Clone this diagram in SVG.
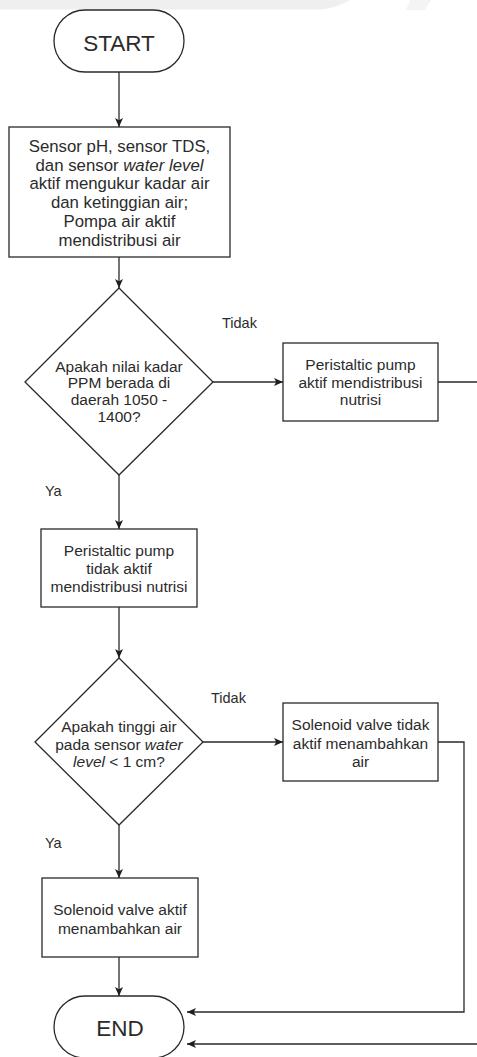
<svg xmlns="http://www.w3.org/2000/svg" width="477" height="1057" viewBox="0 0 477 1057">
  <defs>
    <marker id="arrow" markerUnits="userSpaceOnUse" markerWidth="10" markerHeight="9" refX="9" refY="4" orient="auto">
      <path d="M0,0 L9,4 L0,8 L2.2,4 Z" fill="#1e1e1e"/>
    </marker>
    <style>
      .shape { fill: #ffffff; stroke: #2a2a2a; stroke-width: 1.3; }
      .edge { fill: none; stroke: #2a2a2a; stroke-width: 1.3; marker-end: url(#arrow); }
      text { font-family: "Liberation Sans", Arial, sans-serif; fill: #2b2b2b; }
      .lbl { font-size: 15.5px; text-anchor: middle; }
      .lbl-lg { font-size: 16.8px; text-anchor: middle; }
      .big { font-size: 22.5px; text-anchor: middle; }
      .tag { font-size: 14.5px; }
      .it { font-style: italic; }
    </style>
  </defs>

  <rect width="477" height="1057" fill="#ffffff"/>
  <!-- faint background band -->
  <path d="M0,0 H350 C338,6 330,9.5 318,9.5 H0 Z" fill="#efefef"/>
  <path d="M410,0 H431 L425,10 H406 Z" fill="#f4f4f4"/>

  <g id="connectors">
    <path class="edge" d="M119,72 V127"/>
    <path class="edge" d="M119,257 V288"/>
    <path class="edge" d="M213,382 H283"/>
    <path class="edge" d="M438,382 H490 V1044 H187"/>
    <path class="edge" d="M119,475 V529"/>
    <path class="edge" d="M119,607 V658"/>
    <path class="edge" d="M203,742 H283"/>
    <path class="edge" d="M438,742 H464 V1012 H187"/>
    <path class="edge" d="M119,825 V878"/>
    <path class="edge" d="M119,957 V996"/>
    <text class="tag" x="222" y="328">Tidak</text>
    <text class="tag" x="45" y="496">Ya</text>
    <text class="tag" x="211" y="703">Tidak</text>
    <text class="tag" x="45" y="848">Ya</text>
  </g>

  <g id="start">
    <rect class="shape" x="54" y="10" width="130" height="62" rx="31" ry="31"/>
    <text class="big" x="119" y="51">START</text>
  </g>

  <g id="sensors-active">
    <rect class="shape" x="9" y="127" width="221" height="130"/>
    <text class="lbl-lg" x="119.5" y="151.7">Sensor pH, sensor TDS,</text>
    <text class="lbl-lg" x="119.5" y="170.5">dan sensor <tspan class="it">water level</tspan></text>
    <text class="lbl-lg" x="119.5" y="189.3">aktif mengukur kadar air</text>
    <text class="lbl-lg" x="119.5" y="208.1">dan ketinggian air;</text>
    <text class="lbl-lg" x="119.5" y="226.9">Pompa air aktif</text>
    <text class="lbl-lg" x="119.5" y="245.7">mendistribusi air</text>
  </g>

  <g id="ppm-check">
    <path class="shape" d="M119,288 L213,382 L119,475 L25,382 Z"/>
    <text class="lbl" x="119" y="371.5">Apakah nilai kadar</text>
    <text class="lbl" x="119" y="388">PPM berada di</text>
    <text class="lbl" x="119" y="405">daerah 1050 -</text>
    <text class="lbl" x="119" y="421.5">1400?</text>
  </g>

  <g id="pump-on">
    <rect class="shape" x="283" y="343" width="155" height="78"/>
    <text class="lbl" x="360.5" y="370">Peristaltic pump</text>
    <text class="lbl" x="360.5" y="388">aktif mendistribusi</text>
    <text class="lbl" x="360.5" y="405">nutrisi</text>
  </g>

  <g id="pump-off">
    <rect class="shape" x="41" y="529" width="156" height="78"/>
    <text class="lbl" x="119" y="555.5">Peristaltic pump</text>
    <text class="lbl" x="119" y="573.5">tidak aktif</text>
    <text class="lbl" x="119" y="591.5">mendistribusi nutrisi</text>
  </g>

  <g id="level-check">
    <path class="shape" d="M119,658 L203,742 L119,825 L35,742 Z"/>
    <text class="lbl" x="119" y="732">Apakah tinggi air</text>
    <text class="lbl" x="119" y="750">pada sensor <tspan class="it">water</tspan></text>
    <text class="lbl" x="119" y="767"><tspan class="it">level</tspan> &lt; 1 cm?</text>
  </g>

  <g id="valve-off">
    <rect class="shape" x="283" y="703" width="155" height="78"/>
    <text class="lbl" x="360.5" y="730">Solenoid valve tidak</text>
    <text class="lbl" x="360.5" y="748.5">aktif menambahkan</text>
    <text class="lbl" x="360.5" y="767">air</text>
  </g>

  <g id="valve-on">
    <rect class="shape" x="42" y="878" width="156" height="79"/>
    <text class="lbl" x="120" y="914.5">Solenoid valve aktif</text>
    <text class="lbl" x="120" y="933.5">menambahkan air</text>
  </g>

  <g id="end">
    <rect class="shape" x="54" y="996" width="130" height="62" rx="31" ry="31"/>
    <text class="big" x="120" y="1036">END</text>
  </g>
</svg>
